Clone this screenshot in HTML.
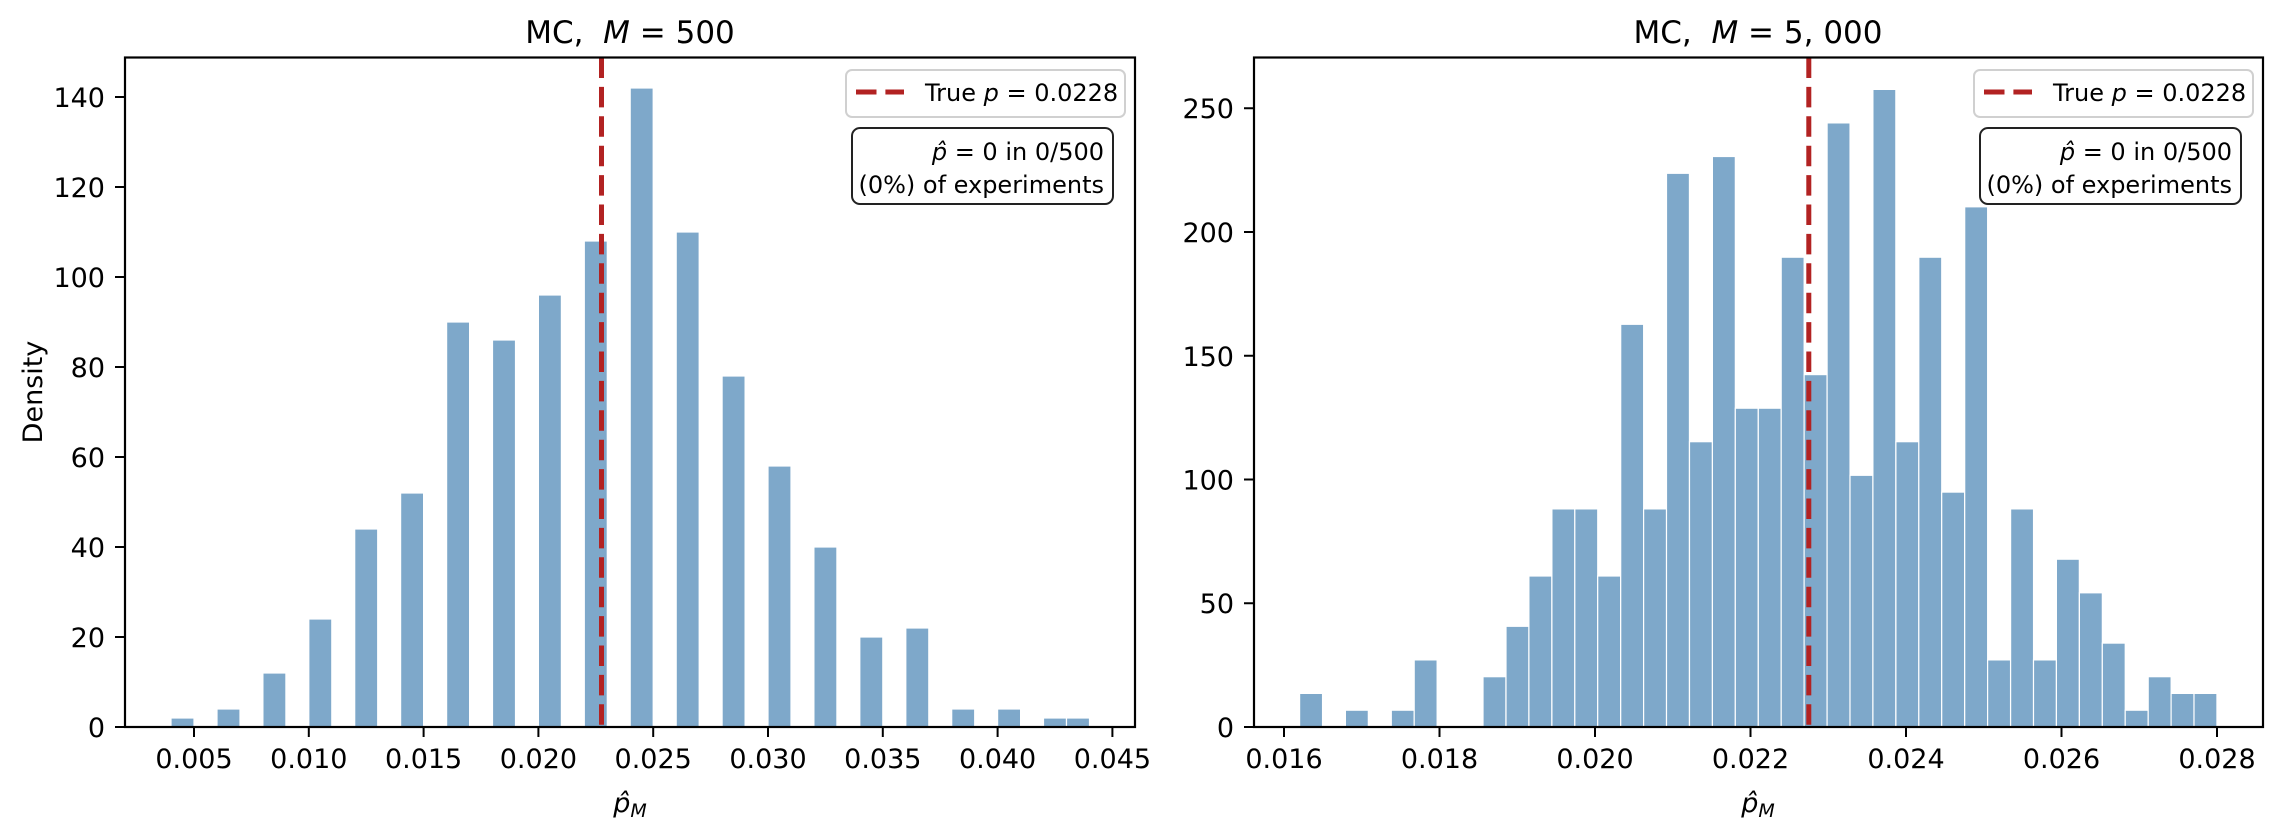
<!DOCTYPE html>
<html><head><meta charset="utf-8"><style>
html,body{margin:0;padding:0;background:#fff;}
svg{display:block;}
text{font-family:"DejaVu Sans","Liberation Sans",sans-serif;fill:#000;}
</style></head><body>
<svg width="2282" height="837" viewBox="0 0 2282 837" xmlns="http://www.w3.org/2000/svg">
<rect width="2282" height="837" fill="#fff"/>
<g fill="#7ea8ca" stroke="#fff" stroke-width="1.2">
<rect x="171.0" y="718" width="23" height="9"/>
<rect x="217.0" y="709" width="23" height="18"/>
<rect x="262.9" y="673" width="23" height="54"/>
<rect x="308.8" y="619" width="23" height="108"/>
<rect x="354.7" y="529" width="23" height="198"/>
<rect x="400.6" y="493" width="23" height="234"/>
<rect x="446.6" y="322" width="23" height="405"/>
<rect x="492.5" y="340" width="23" height="387"/>
<rect x="538.4" y="295" width="23" height="432"/>
<rect x="584.3" y="241" width="23" height="486"/>
<rect x="630.2" y="88" width="23" height="639"/>
<rect x="676.2" y="232" width="23" height="495"/>
<rect x="722.1" y="376" width="23" height="351"/>
<rect x="768.0" y="466" width="23" height="261"/>
<rect x="813.9" y="547" width="23" height="180"/>
<rect x="859.8" y="637" width="23" height="90"/>
<rect x="905.8" y="628" width="23" height="99"/>
<rect x="951.7" y="709" width="23" height="18"/>
<rect x="997.6" y="709" width="23" height="18"/>
<rect x="1043.5" y="718" width="23" height="9"/>
<rect x="1066.5" y="718" width="23" height="9"/>
</g>
<line x1="601.5" y1="57.5" x2="601.5" y2="727" stroke="#b22222" stroke-width="5" stroke-dasharray="20.5 8.9"/>
<rect x="125" y="57.5" width="1010" height="669.5" fill="none" stroke="#000" stroke-width="2.2"/>
<g stroke="#000" stroke-width="2">
<line x1="194" y1="727" x2="194" y2="737"/><line x1="308.8" y1="727" x2="308.8" y2="737"/><line x1="423.6" y1="727" x2="423.6" y2="737"/><line x1="538.4" y1="727" x2="538.4" y2="737"/><line x1="653.2" y1="727" x2="653.2" y2="737"/><line x1="768" y1="727" x2="768" y2="737"/><line x1="882.8" y1="727" x2="882.8" y2="737"/><line x1="997.6" y1="727" x2="997.6" y2="737"/><line x1="1112.4" y1="727" x2="1112.4" y2="737"/>
<line x1="115" y1="727" x2="125" y2="727"/><line x1="115" y1="637" x2="125" y2="637"/><line x1="115" y1="547" x2="125" y2="547"/><line x1="115" y1="457" x2="125" y2="457"/><line x1="115" y1="367" x2="125" y2="367"/><line x1="115" y1="277" x2="125" y2="277"/><line x1="115" y1="187" x2="125" y2="187"/><line x1="115" y1="97" x2="125" y2="97"/>
</g>
<g font-size="27" text-anchor="middle">
<text x="194" y="768">0.005</text><text x="308.8" y="768">0.010</text><text x="423.6" y="768">0.015</text><text x="538.4" y="768">0.020</text><text x="653.2" y="768">0.025</text><text x="768" y="768">0.030</text><text x="882.8" y="768">0.035</text><text x="997.6" y="768">0.040</text><text x="1112.4" y="768">0.045</text>
</g>
<g font-size="27" text-anchor="end">
<text x="105" y="737">0</text><text x="105" y="647">20</text><text x="105" y="557">40</text><text x="105" y="467">60</text><text x="105" y="377">80</text><text x="105" y="287">100</text><text x="105" y="197">120</text><text x="105" y="107">140</text>
</g>
<text x="630" y="43" font-size="31" text-anchor="middle">MC, &#160;<tspan font-style="italic">M</tspan> = 500</text>
<text x="630" y="812" font-size="27" text-anchor="middle"><tspan font-style="italic">p̂</tspan><tspan font-size="19" font-style="italic" dy="5">M</tspan></text>
<text transform="translate(42,392) rotate(-90)" font-size="27" text-anchor="middle">Density</text>
<rect x="846" y="70" width="279" height="47" rx="6" fill="#fff" fill-opacity="0.8" stroke="#d0d0d0" stroke-width="2"/>
<line x1="856" y1="92" x2="904" y2="92" stroke="#b22222" stroke-width="5" stroke-dasharray="20.5 8.9"/>
<text x="925" y="101" font-size="24">True <tspan font-style="italic">p</tspan> = 0.0228</text>
<rect x="852" y="128" width="261" height="76" rx="8" fill="#fff" stroke="#222" stroke-width="2"/>
<text x="1104" y="160" font-size="24" text-anchor="end"><tspan font-style="italic">p̂</tspan> = 0 in 0/500</text>
<text x="1104" y="193" font-size="24" text-anchor="end">(0%) of experiments</text>

<g fill="#7ea8ca" stroke="#fff" stroke-width="1.2">
<rect x="1299.6" y="693.4" width="22.94" height="33.6"/>
<rect x="1345.4" y="710.2" width="22.94" height="16.8"/>
<rect x="1391.3" y="710.2" width="22.94" height="16.8"/>
<rect x="1414.2" y="659.9" width="22.94" height="67.1"/>
<rect x="1483.0" y="676.7" width="22.94" height="50.3"/>
<rect x="1506.0" y="626.3" width="22.94" height="100.7"/>
<rect x="1528.9" y="576.0" width="22.94" height="151.0"/>
<rect x="1551.9" y="508.9" width="22.94" height="218.1"/>
<rect x="1574.8" y="508.9" width="22.94" height="218.1"/>
<rect x="1597.7" y="576.0" width="22.94" height="151.0"/>
<rect x="1620.7" y="324.3" width="22.94" height="402.7"/>
<rect x="1643.6" y="508.9" width="22.94" height="218.1"/>
<rect x="1666.5" y="173.3" width="22.94" height="553.7"/>
<rect x="1689.5" y="441.7" width="22.94" height="285.3"/>
<rect x="1712.4" y="156.5" width="22.94" height="570.5"/>
<rect x="1735.3" y="408.2" width="22.94" height="318.8"/>
<rect x="1758.3" y="408.2" width="22.94" height="318.8"/>
<rect x="1781.2" y="257.2" width="22.94" height="469.8"/>
<rect x="1804.1" y="374.6" width="22.94" height="352.4"/>
<rect x="1827.1" y="122.9" width="22.94" height="604.1"/>
<rect x="1850.0" y="475.3" width="22.94" height="251.7"/>
<rect x="1872.9" y="89.4" width="22.94" height="637.6"/>
<rect x="1895.9" y="441.7" width="22.94" height="285.3"/>
<rect x="1918.8" y="257.2" width="22.94" height="469.8"/>
<rect x="1941.7" y="492.1" width="22.94" height="234.9"/>
<rect x="1964.7" y="206.8" width="22.94" height="520.2"/>
<rect x="1987.6" y="659.9" width="22.94" height="67.1"/>
<rect x="2010.6" y="508.9" width="22.94" height="218.1"/>
<rect x="2033.5" y="659.9" width="22.94" height="67.1"/>
<rect x="2056.4" y="559.2" width="22.94" height="167.8"/>
<rect x="2079.4" y="592.8" width="22.94" height="134.2"/>
<rect x="2102.3" y="643.1" width="22.94" height="83.9"/>
<rect x="2125.2" y="710.2" width="22.94" height="16.8"/>
<rect x="2148.2" y="676.7" width="22.94" height="50.3"/>
<rect x="2171.1" y="693.4" width="22.94" height="33.6"/>
<rect x="2194.0" y="693.4" width="22.94" height="33.6"/>
</g>
<line x1="1808.8" y1="57.5" x2="1808.8" y2="727" stroke="#b22222" stroke-width="5" stroke-dasharray="20.5 8.9"/>
<rect x="1254" y="57.5" width="1009" height="669.5" fill="none" stroke="#000" stroke-width="2.2"/>
<g stroke="#000" stroke-width="2">
<line x1="1284" y1="727" x2="1284" y2="737"/><line x1="1439.5" y1="727" x2="1439.5" y2="737"/><line x1="1595" y1="727" x2="1595" y2="737"/><line x1="1750.5" y1="727" x2="1750.5" y2="737"/><line x1="1906" y1="727" x2="1906" y2="737"/><line x1="2061.5" y1="727" x2="2061.5" y2="737"/><line x1="2217" y1="727" x2="2217" y2="737"/>
<line x1="1244" y1="727" x2="1254" y2="727"/><line x1="1244" y1="603.25" x2="1254" y2="603.25"/><line x1="1244" y1="479.5" x2="1254" y2="479.5"/><line x1="1244" y1="355.75" x2="1254" y2="355.75"/><line x1="1244" y1="232" x2="1254" y2="232"/><line x1="1244" y1="108.25" x2="1254" y2="108.25"/>
</g>
<g font-size="27" text-anchor="middle">
<text x="1284" y="768">0.016</text><text x="1439.5" y="768">0.018</text><text x="1595" y="768">0.020</text><text x="1750.5" y="768">0.022</text><text x="1906" y="768">0.024</text><text x="2061.5" y="768">0.026</text><text x="2217" y="768">0.028</text>
</g>
<g font-size="27" text-anchor="end">
<text x="1234" y="737">0</text><text x="1234" y="613">50</text><text x="1234" y="489.5">100</text><text x="1234" y="366">150</text><text x="1234" y="242">200</text><text x="1234" y="118">250</text>
</g>
<text x="1758" y="43" font-size="31" text-anchor="middle">MC, &#160;<tspan font-style="italic">M</tspan> = 5, 000</text>
<text x="1758" y="812" font-size="27" text-anchor="middle"><tspan font-style="italic">p̂</tspan><tspan font-size="19" font-style="italic" dy="5">M</tspan></text>
<rect x="1974" y="70" width="279" height="47" rx="6" fill="#fff" fill-opacity="0.8" stroke="#d0d0d0" stroke-width="2"/>
<line x1="1984" y1="92" x2="2032" y2="92" stroke="#b22222" stroke-width="5" stroke-dasharray="20.5 8.9"/>
<text x="2053" y="101" font-size="24">True <tspan font-style="italic">p</tspan> = 0.0228</text>
<rect x="1980" y="128" width="261" height="76" rx="8" fill="#fff" stroke="#222" stroke-width="2"/>
<text x="2232" y="160" font-size="24" text-anchor="end"><tspan font-style="italic">p̂</tspan> = 0 in 0/500</text>
<text x="2232" y="193" font-size="24" text-anchor="end">(0%) of experiments</text>
</svg>
</body></html>
